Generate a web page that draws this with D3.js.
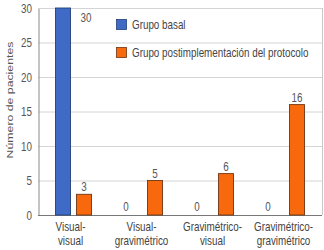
<!DOCTYPE html>
<html><head><meta charset="utf-8">
<script src="https://cdn.jsdelivr.net/npm/d3@7"></script>
<style>
body{margin:0;background:#fff;}
text{font-family:"Liberation Sans",Arial,sans-serif;}
</style></head>
<body>
<svg id="c" width="324" height="250"></svg>
<script>
const categories = [["Visual-","visual"],["Visual-","gravimétrico"],["Gravimétrico-","visual"],["Gravimétrico-","gravimétrico"]];
const seriesNames = ["Grupo basal","Grupo postimplementación del protocolo"];
const basal = [30, 0, 0, 0];
const post = [3, 5, 6, 16];
const yTicks = [0, 5, 10, 15, 20, 25, 30];
const colors = ["#3f6bc6", "#f7690c"];
const borders = ["#233f78", "#6e3514"];

const svg = d3.select("#c");
const m = {l:38, r:322, t:8, b:215};
const x = d3.scaleBand().domain(d3.range(categories.length)).range([m.l, m.r]);
const y = d3.scaleLinear().domain([0, 30]).range([m.b, m.t]);
const SX = 0.8;

function txt(g, px, py, s, anchor, color, rot) {
  return g.append("text")
    .attr("transform", `translate(${px},${py})` + (rot ? ` rotate(${rot})` : "") + (rot ? ` scale(1,${SX})` : ` scale(${SX},1)`))
    .attr("text-anchor", anchor || "start")
    .attr("font-size", 12.3).attr("fill", color || "#555")
    .text(s);
}

// gridlines
svg.append("g").selectAll("line").data(yTicks).join("line")
  .attr("x1", m.l).attr("x2", m.r).attr("y1", d=>y(d)+0.5).attr("y2", d=>y(d)+0.5)
  .attr("stroke", "#d4d4d4").attr("stroke-width", 1);
svg.append("line").attr("x1", m.r+0.5).attr("x2", m.r+0.5).attr("y1", m.t).attr("y2", m.b)
  .attr("stroke", "#c8c8c8");

// y axis
const ya = svg.append("g").attr("transform", `translate(${m.l+0.5},0.5)`)
  .call(d3.axisLeft(y).tickValues(yTicks).tickSize(0).tickFormat(""));
ya.select(".domain").attr("stroke", "#8a8a8a");
const yl = svg.append("g");
yTicks.forEach(t => txt(yl, 32, y(t) + 4.5, t, "end", "#555"));

svg.append("line").attr("x1", m.l).attr("x2", m.r).attr("y1", m.b+0.5).attr("y2", m.b+0.5)
  .attr("stroke", "#777");

const bw = 15;
const off = [-10.5, 10.5];
const cx = i => x(i) + x.bandwidth()/2;

[basal, post].forEach((ser, s) => {
  svg.append("g").selectAll("rect").data(ser).join("rect")
    .attr("x", (d,i) => cx(i) + off[s] - bw/2)
    .attr("y", d => y(d))
    .attr("width", bw)
    .attr("height", d => y(0) - y(d))
    .attr("fill", colors[s])
    .attr("stroke", d => d > 0 ? borders[s] : "none")
    .attr("stroke-width", 0.9);
});

// value labels
const vl = svg.append("g");
post.forEach((d, i) => txt(vl, cx(i) + off[1], y(d) - 3, d, "middle"));
basal.forEach((d, i) => {
  if (d >= 30) txt(vl, cx(i) + off[1] + 2, y(d) + 14, d, "middle");
  else txt(vl, cx(i) + off[0] - 8, y(d) - 4, d, "middle");
});

// category labels
const cl = svg.append("g");
categories.forEach((d, i) => d.forEach((line, j) => txt(cl, cx(i) - 3, 231 + j*14, line, "middle", "#444")));

// y title
txt(svg, 13, 100, "Número de pacientes", "middle", "#555", -90);

// legend
const lg = svg.append("g");
seriesNames.forEach((n, i) => {
  lg.append("rect").attr("x", 116.5).attr("y", 19.5 + i*28).attr("width", 10).attr("height", 10)
    .attr("fill", colors[i]).attr("stroke", borders[i]).attr("stroke-width", 0.8);
  txt(lg, 132, 28.5 + i*28, n, "start", "#444");
});
</script>
</body></html>
